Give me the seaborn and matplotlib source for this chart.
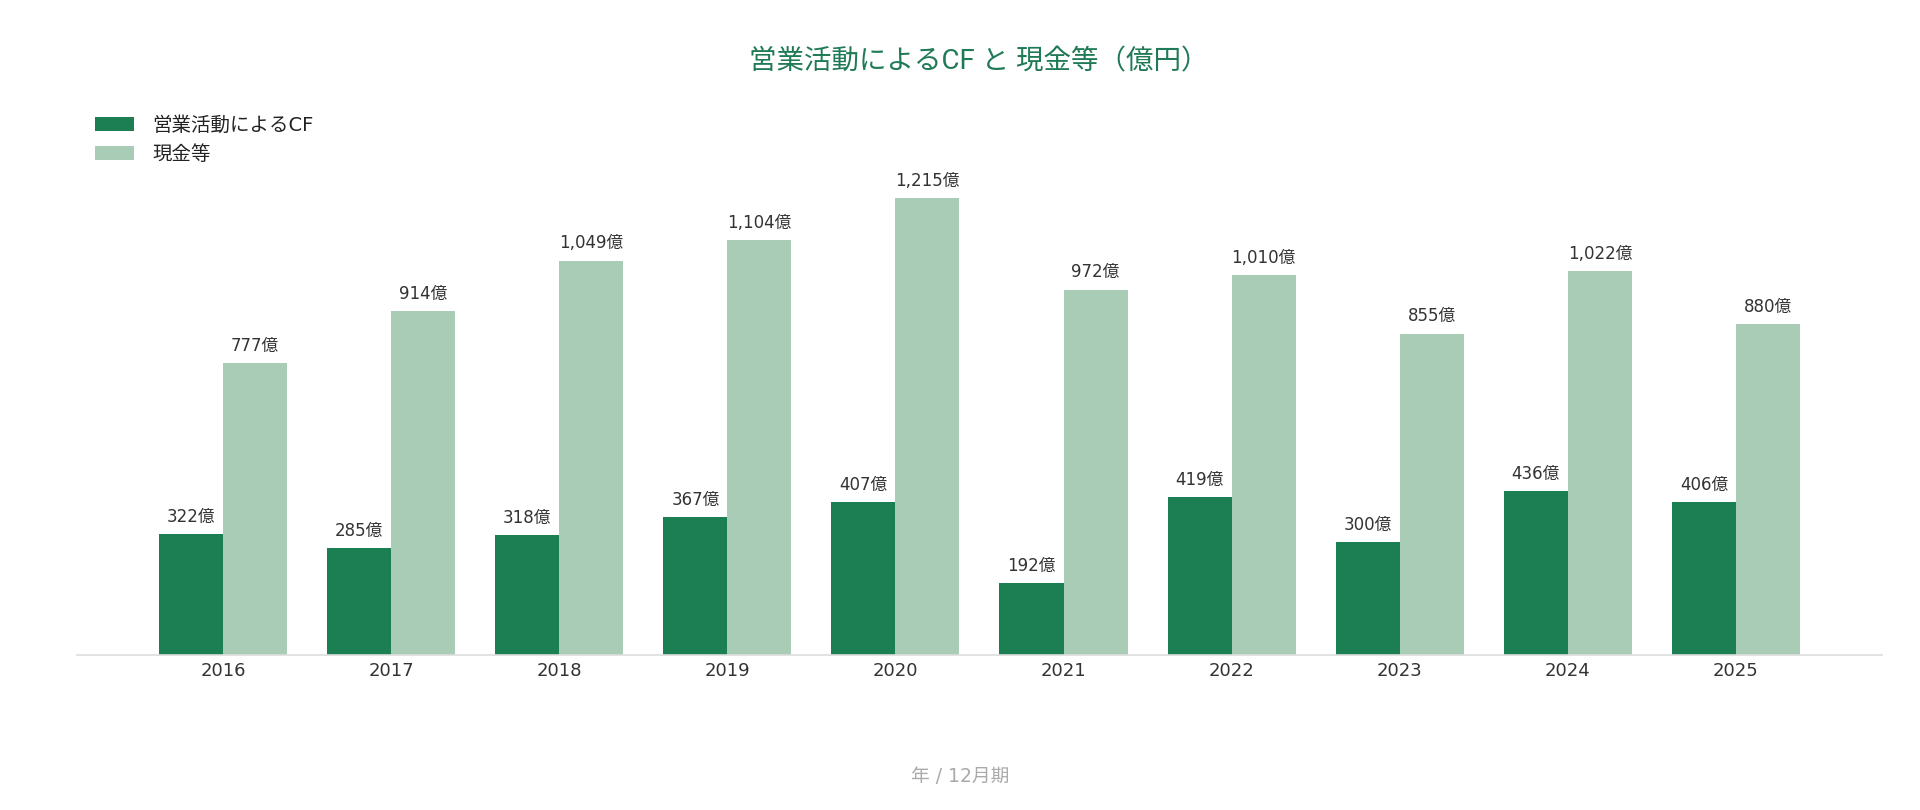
import matplotlib
matplotlib.use("Agg")
import matplotlib.pyplot as plt
import pandas as pd
import seaborn as sns

# Data (億円)
years = ["2016", "2017", "2018", "2019", "2020", "2021", "2022", "2023", "2024", "2025"]
operating_cf = [322, 285, 318, 367, 407, 192, 419, 300, 436, 406]
cash = [777, 914, 1049, 1104, 1215, 972, 1010, 855, 1022, 880]
series_names = ["営業活動によるCF", "現金等"]

dark_green = "#1c7f53"
light_green = "#a9ccb7"

sns.set_theme(style="white")
plt.rcParams["font.family"] = ["DejaVu Sans", "Noto Sans CJK JP"]

# long-form table for seaborn
df = pd.DataFrame({
    "year": years * 2,
    "value": operating_cf + cash,
    "series": [series_names[0]] * len(years) + [series_names[1]] * len(years),
})

fig = plt.figure(figsize=(19.2, 8.1), dpi=100)
ax = fig.add_axes([0.0401, 0.1914, 0.9401, 0.6728])

sns.barplot(data=df, x="year", y="value", hue="series", order=years,
            hue_order=series_names, palette=[dark_green, light_green],
            width=0.762, gap=0, saturation=1, linewidth=0, ax=ax)

# value labels above bars
for container in ax.containers:
    ax.bar_label(container, labels=[f"{int(v):,}億" for v in container.datavalues],
                 padding=6, fontsize=12, color="#333333")

ax.set_xlim(-0.869, 9.869)
ax.set_ylim(0, 1450)
ax.set_yticks([])
ax.set_xlabel("")
ax.set_ylabel("")
for side in ["top", "right", "left"]:
    ax.spines[side].set_visible(False)
ax.spines["bottom"].set_color("#dddddd")
ax.spines["bottom"].set_linewidth(1.2)
ax.tick_params(axis="x", length=0, pad=5, labelsize=13, labelcolor="#333333")

# legend, top-left
handles, labels = ax.get_legend_handles_labels()
ax.legend(handles, labels, loc="upper left", bbox_to_anchor=(95 / 1920, 1 - 116 / 810),
          bbox_transform=fig.transFigure, frameon=False, fontsize=14,
          handlelength=2.0, handleheight=0.72, handletextpad=0.95,
          labelspacing=0.5, borderpad=0, borderaxespad=0, labelcolor="#222222")

fig.text(0.51, 1 - 62 / 810, "営業活動によるCF と 現金等（億円）", ha="center", va="center",
         fontsize=19.8, color="#1f7a55", family=["Roboto", "Noto Sans CJK JP"])
fig.text(0.5, 1 - 777 / 810, "年 / 12月期", ha="center", va="center",
         fontsize=13.5, color="#aaaaaa")

fig.savefig("out.png", dpi=100, facecolor="white")
